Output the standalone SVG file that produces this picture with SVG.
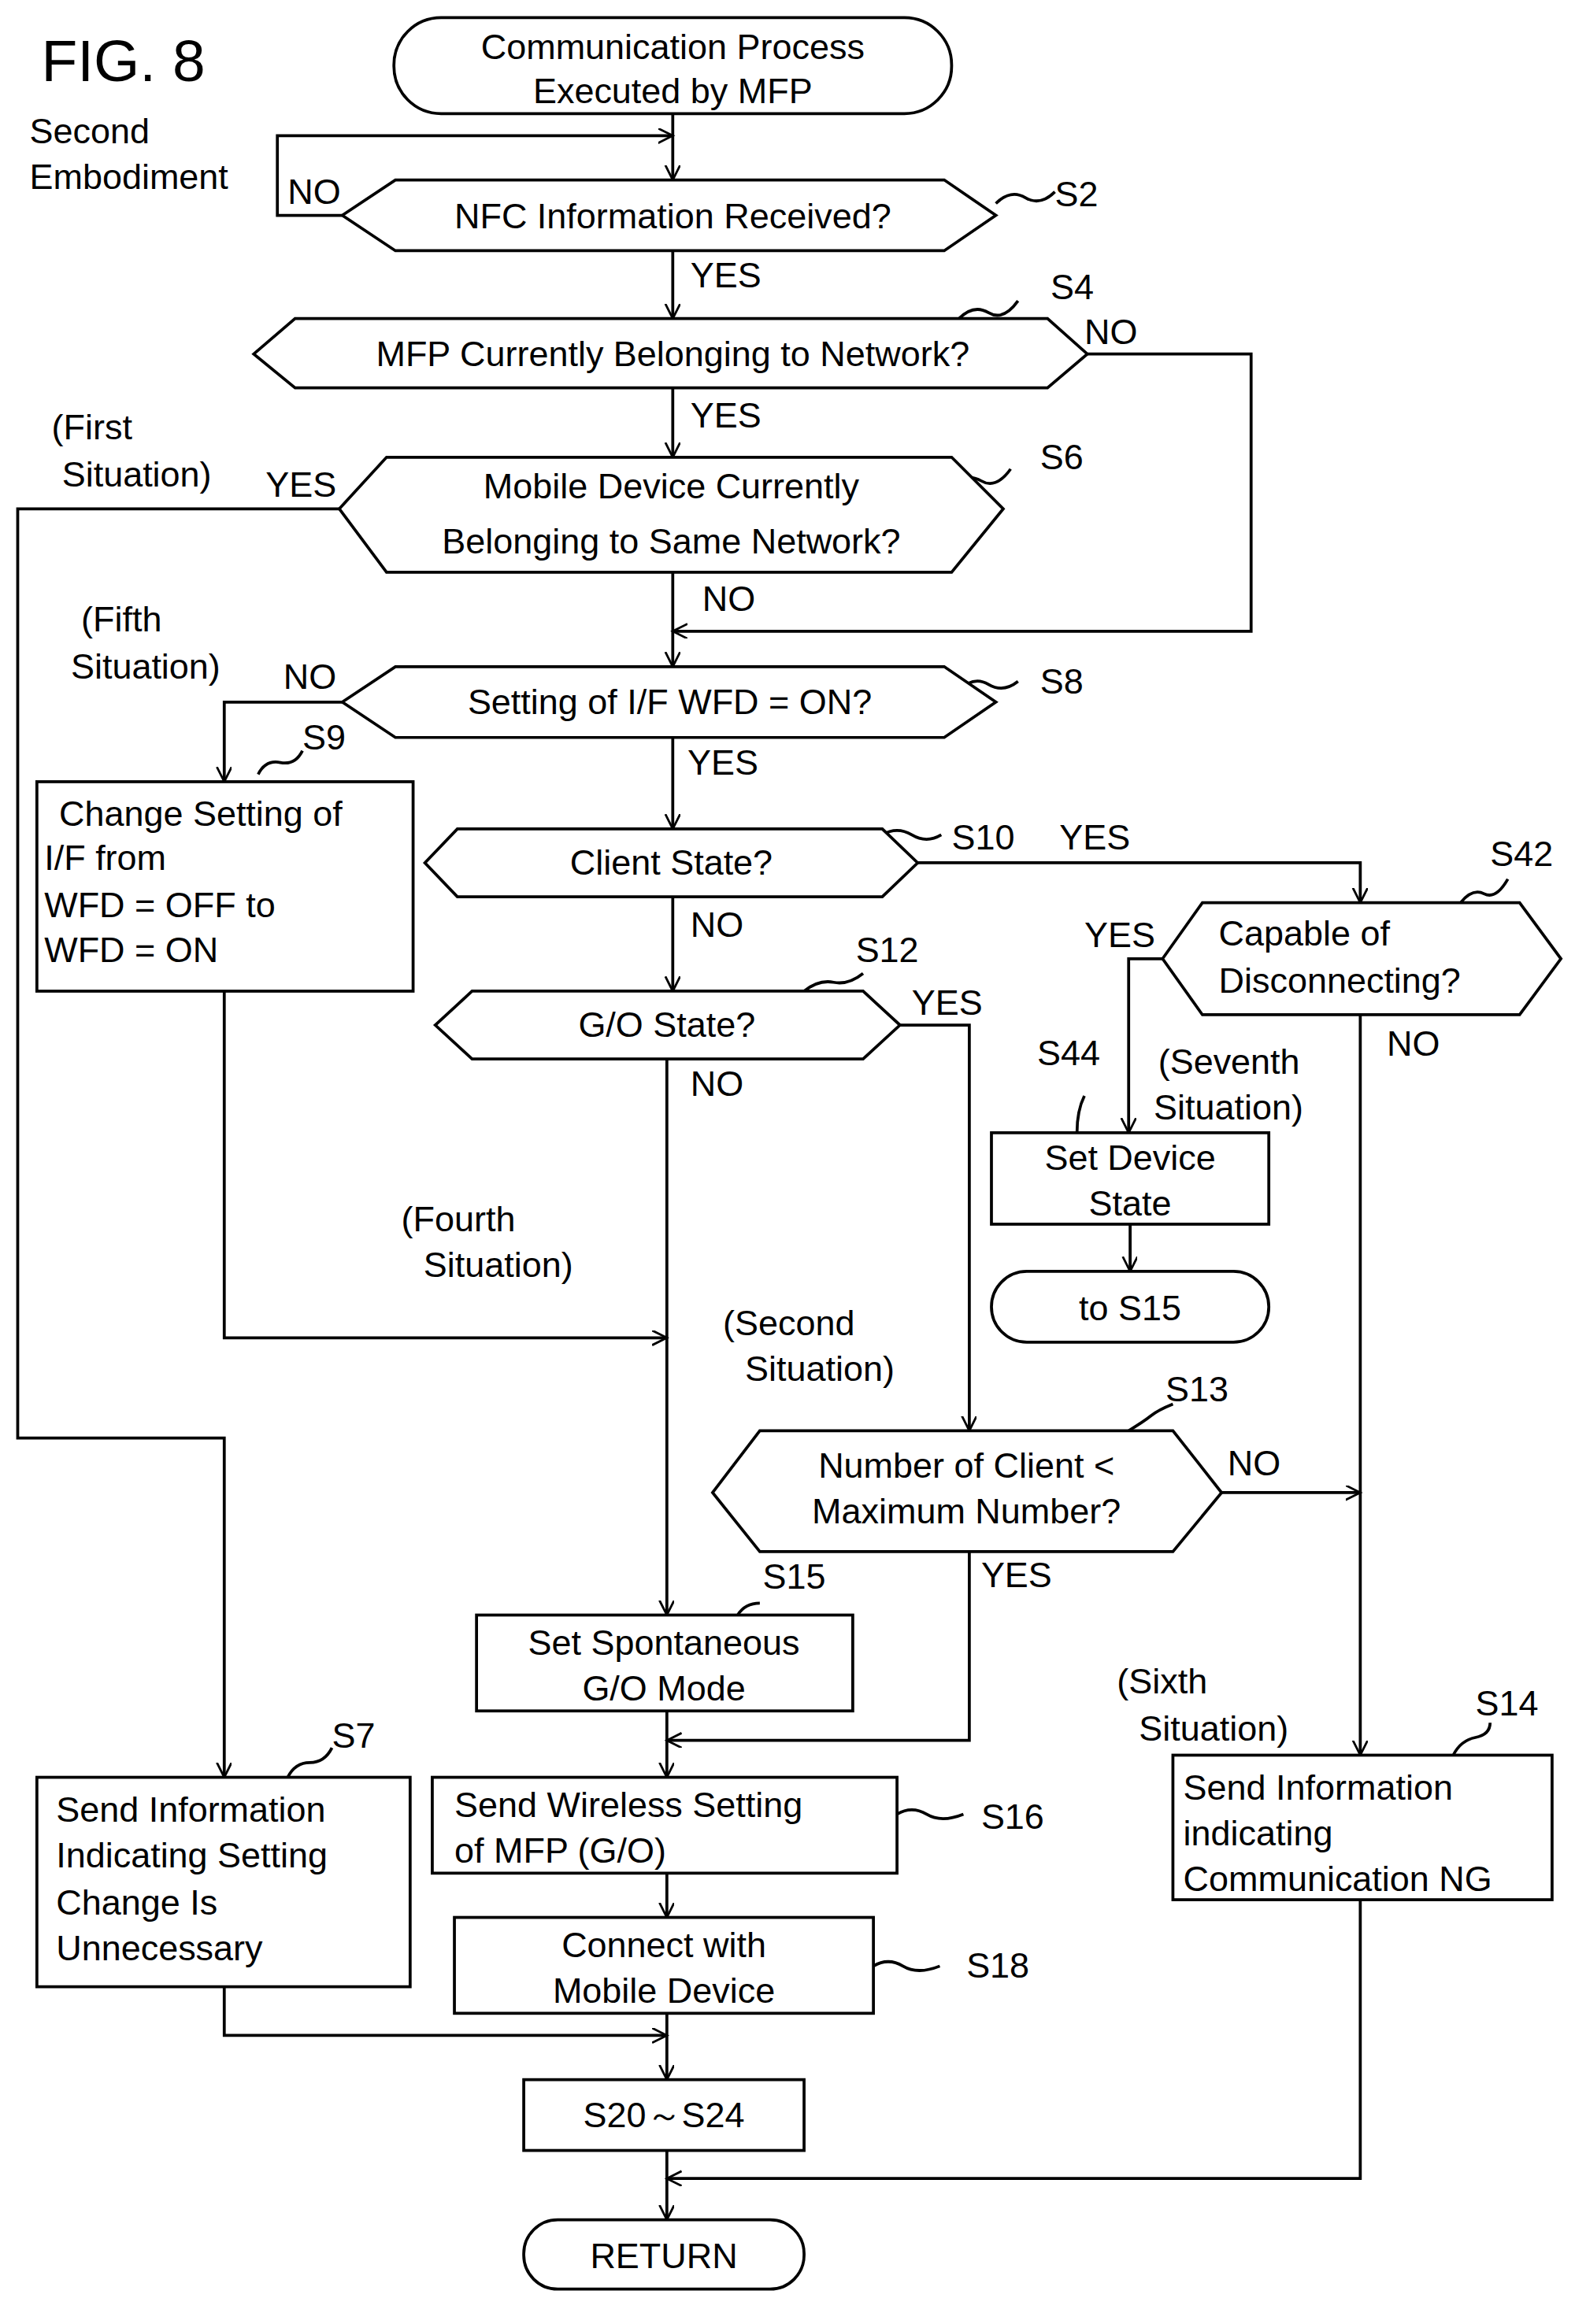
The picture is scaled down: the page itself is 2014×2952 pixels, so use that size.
<svg xmlns="http://www.w3.org/2000/svg" width="2014" height="2952" viewBox="0 0 2014 2952">
<style>
.s{fill:none;stroke:#000;stroke-width:2}
.b{fill:#fff;stroke:#000;stroke-width:2}
text{font-family:"Liberation Sans",Arial,sans-serif;font-size:24px;fill:#000}
.c{text-anchor:middle}
</style>
<defs><marker id="a" markerWidth="12" markerHeight="12" refX="10" refY="5" orient="auto" markerUnits="userSpaceOnUse"><path d="M0,0 L10,5 L0,10" fill="none" stroke="#000" stroke-width="1.5"/></marker></defs>
<rect width="2014" height="2952" fill="#fff"/>
<g transform="scale(1.8735)">
<text x="28" y="55" style="font-size:40px">FIG. 8</text>
<text x="20" y="97">Second</text><text x="20" y="128">Embodiment</text>
<g id="connectors" class="s" marker-end="url(#a)">
<path d="M456,77 V122"/>
<path d="M232,146 H188 V92 H456"/>
<path d="M456,170 V216"/>
<path d="M737,240 H848 V428 H456"/>
<path d="M456,263 V310"/>
<path d="M230,345 H12 V975 H152 V1205"/>
<path d="M456,388 V452"/>
<path d="M232,476 H152 V530"/>
<path d="M152,672 V907 H452"/>
<path d="M456,500 V562"/>
<path d="M622,585 H922 V612"/>
<path d="M456,608 V672"/>
<path d="M610,695 H657 V970"/>
<path d="M452,718 V1095"/>
<path d="M788,650 H765 V768"/>
<path d="M922,688 V1190"/>
<path d="M766,830 V862"/>
<path d="M828,1012 H922"/>
<path d="M657,1052 V1180 H452"/>
<path d="M452,1160 V1205"/>
<path d="M452,1270 V1300"/>
<path d="M452,1365 V1410"/>
<path d="M152,1347 V1380 H452"/>
<path d="M452,1458 V1505"/>
<path d="M922,1288 V1477 H452"/>
</g>
<g class="s">
<path d="M675,138 q10,-10 20,-4 t20,-4"/>
<path d="M650,216 q10,-10 20,-4 t20,-8"/>
<path d="M645,330 q10,-10 20,-4 t20,-8"/>
<path d="M650,468 q10,-10 20,-4 t20,-2"/>
<path d="M175,525 q5,-10 15,-8 t15,-8"/>
<path d="M598,566 q10,-6 20,0 t20,0"/>
<path d="M545,672 q10,-8 20,-6 t20,-6"/>
<path d="M990,612 q8,-10 16,-6 t16,-10"/>
<path d="M730,768 q0,-15 5,-25"/>
<path d="M765,970 q10,-6 15,-10 t15,-8"/>
<path d="M500,1095 q5,-8 15,-8"/>
<path d="M578,1152 q0,0 0,0"/>
<path d="M608,1230 q10,-6 20,0 t25,0"/>
<path d="M592,1333 q10,-6 20,0 t25,0"/>
<path d="M195,1205 q5,-10 15,-10 t15,-10"/>
<path d="M985,1190 q5,-10 15,-12 t10,-10"/>
</g>
<g id="start"><rect class="b" x="267" y="12" width="378" height="65" rx="32"/><text class="c" x="456" y="40">Communication Process</text><text class="c" x="456" y="70">Executed by MFP</text></g>
<g id="S2"><polygon class="b" points="232,146 268,122 640,122 675,146 640,170 268,170"/><text class="c" x="456" y="155">NFC Information Received?</text><text x="715" y="140">S2</text><text x="195" y="138">NO</text><text x="468" y="195">YES</text></g>
<g id="S4"><polygon class="b" points="172,240 200,216 710,216 737,240 710,263 200,263"/><text class="c" x="456" y="248">MFP Currently Belonging to Network?</text><text x="712" y="203">S4</text><text x="735" y="233">NO</text><text x="468" y="290">YES</text></g>
<g id="S6"><polygon class="b" points="230,345 262,310 645,310 680,345 645,388 262,388"/><text class="c" x="455" y="338">Mobile Device Currently</text><text class="c" x="455" y="375">Belonging to Same Network?</text><text x="705" y="318">S6</text><text x="35" y="298">(First</text><text x="42" y="330">Situation)</text><text x="180" y="337">YES</text><text x="476" y="414">NO</text></g>
<g id="S8"><polygon class="b" points="232,476 268,452 640,452 675,476 640,500 268,500"/><text class="c" x="454" y="484">Setting of I/F WFD = ON?</text><text x="705" y="470">S8</text><text x="55" y="428">(Fifth</text><text x="48" y="460">Situation)</text><text x="192" y="467">NO</text><text x="466" y="525">YES</text></g>
<g id="S9"><rect class="b" x="25" y="530" width="255" height="142"/><text x="40" y="560">Change Setting of</text><text x="30" y="590">I/F from</text><text x="30" y="622">WFD = OFF to</text><text x="30" y="652">WFD = ON</text><text x="205" y="508">S9</text></g>
<g id="S10"><polygon class="b" points="288,585 310,562 598,562 622,585 598,608 310,608"/><text class="c" x="455" y="593">Client State?</text><text x="645" y="576">S10</text><text x="718" y="576">YES</text><text x="468" y="635">NO</text></g>
<g id="S12"><polygon class="b" points="295,695 320,672 585,672 610,695 585,718 320,718"/><text class="c" x="452" y="703">G/O State?</text><text x="580" y="652">S12</text><text x="618" y="688">YES</text><text x="468" y="743">NO</text><text x="272" y="835">(Fourth</text><text x="287" y="866">Situation)</text></g>
<g id="S42"><polygon class="b" points="788,650 815,612 1030,612 1058,650 1030,688 815,688"/><text x="826" y="641">Capable of</text><text x="826" y="673">Disconnecting?</text><text x="1010" y="587">S42</text><text x="735" y="642">YES</text><text x="940" y="716">NO</text></g>
<g id="S44"><rect class="b" x="672" y="768" width="188" height="62"/><text class="c" x="766" y="793">Set Device</text><text class="c" x="766" y="824">State</text><text x="703" y="722">S44</text><text x="785" y="728">(Seventh</text><text x="782" y="759">Situation)</text></g>
<g id="toS15"><rect class="b" x="672" y="862" width="188" height="48" rx="24"/><text class="c" x="766" y="895">to S15</text></g>
<g id="S13"><polygon class="b" points="483,1012 515,970 795,970 828,1012 795,1052 515,1052"/><text class="c" x="655" y="1002">Number of Client &lt;</text><text class="c" x="655" y="1033">Maximum Number?</text><text x="790" y="950">S13</text><text x="490" y="905">(Second</text><text x="505" y="936">Situation)</text><text x="832" y="1000">NO</text><text x="665" y="1076">YES</text></g>
<g id="S15"><rect class="b" x="323" y="1095" width="255" height="65"/><text class="c" x="450" y="1122">Set Spontaneous</text><text class="c" x="450" y="1153">G/O Mode</text><text x="517" y="1077">S15</text></g>
<g id="S16"><rect class="b" x="293" y="1205" width="315" height="65"/><text x="308" y="1232">Send Wireless Setting</text><text x="308" y="1263">of MFP (G/O)</text><text x="665" y="1240">S16</text></g>
<g id="S18"><rect class="b" x="308" y="1300" width="284" height="65"/><text class="c" x="450" y="1327">Connect with</text><text class="c" x="450" y="1358">Mobile Device</text><text x="655" y="1341">S18</text></g>
<g id="S20"><rect class="b" x="355" y="1410" width="190" height="48"/><text class="c" x="450" y="1442">S20～S24</text></g>
<g id="S7"><rect class="b" x="25" y="1205" width="253" height="142"/><text x="38" y="1235">Send Information</text><text x="38" y="1266">Indicating Setting</text><text x="38" y="1298">Change Is</text><text x="38" y="1329">Unnecessary</text><text x="225" y="1185">S7</text></g>
<g id="S14"><rect class="b" x="795" y="1190" width="257" height="98"/><text x="802" y="1220">Send Information</text><text x="802" y="1251">indicating</text><text x="802" y="1282">Communication NG</text><text x="1000" y="1163">S14</text><text x="757" y="1148">(Sixth</text><text x="772" y="1180">Situation)</text></g>
<g id="return"><rect class="b" x="355" y="1505" width="190" height="47" rx="23"/><text class="c" x="450" y="1538">RETURN</text></g>
</g>
</svg>
